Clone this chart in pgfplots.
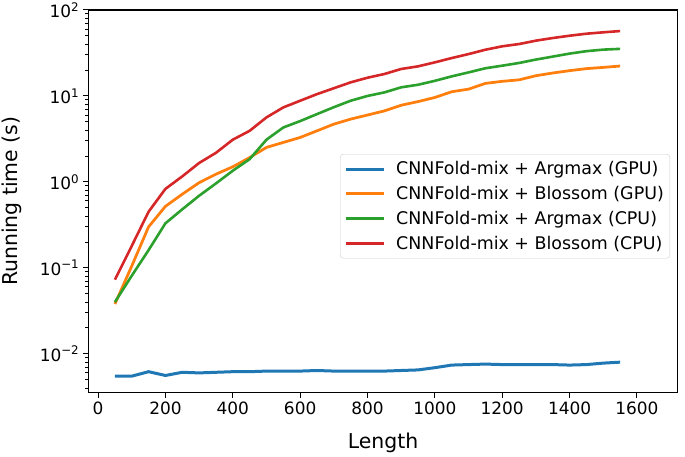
\documentclass[border=0pt]{standalone}
\usepackage{fontspec}
\setmainfont{DejaVu Sans}
\usepackage{pgfplots}
\pgfplotsset{compat=1.18}
\definecolor{cblue}{HTML}{1F77B4}
\definecolor{corange}{HTML}{FF7F0E}
\definecolor{cgreen}{HTML}{2CA02C}
\definecolor{cred}{HTML}{D62728}
\begin{document}
\begin{tikzpicture}
\useasboundingbox (-88.3bp,-64.5bp) rectangle (596.7bp,392.5bp);
\begin{axis}[
  at={(0,0)}, anchor=south west,
  scale only axis, width=589.4bp, height=382.5bp,
  ymode=log,
  xmin=-29, xmax=1721, ymin=0.00355, ymax=100,
  xtick={0,200,400,600,800,1000,1200,1400,1600},
  ytick={0.01,0.1,1,10,100},
  yticklabels={10\textsuperscript{−2},10\textsuperscript{−1},10\textsuperscript{0},10\textsuperscript{1},10\textsuperscript{2}},
  minor ytick={0.004,0.005,0.006,0.007,0.008,0.009,0.02,0.03,0.04,0.05,0.06,0.07,0.08,0.09,0.2,0.3,0.4,0.5,0.6,0.7,0.8,0.9,2,3,4,5,6,7,8,9,20,30,40,50,60,70,80,90},
  tick align=outside, tick pos=left,
  major tick length=5.5bp, minor tick length=3.2bp,
  every tick/.style={black, line width=1bp},
  axis line style={line width=1.1bp},
  ticklabel style={font=\fontsize{17}{20}\selectfont},
  /pgf/number format/assume math mode=true,
  /pgf/number format/1000 sep={},
  xlabel={Length}, ylabel={Running time (s)},
  label style={font=\fontsize{20.5}{24}\selectfont},
  xlabel style={at={(axis description cs:0.5,-0.132)}, anchor=center},
  ylabel style={at={(axis description cs:-0.1295,0.5)}, anchor=center},
  legend cell align=left,
  legend image code/.code={\draw[#1] (0bp,0bp) -- (38bp,0bp);},
  legend style={at={(0.987,0.487)}, anchor=east, draw=black!20, rounded corners=3bp,
    fill=white, fill opacity=0.8, text opacity=1,
    font=\fontsize{17.5}{21}\selectfont,
    inner xsep=4bp, inner ysep=5.5bp, row sep=6bp,
    nodes={inner sep=2bp},
    /tikz/every odd column/.append style={column sep=9bp}},
]
\addplot[cblue, line width=3bp] coordinates {
(50,0.0055) (100,0.0055) (150,0.0062) (200,0.0056) (250,0.0061) (300,0.0060)
(350,0.0061) (400,0.0062) (450,0.0062) (500,0.0063) (550,0.0063) (600,0.0063)
(650,0.0064) (700,0.0063) (750,0.0063) (800,0.0063) (850,0.0063) (900,0.0064)
(950,0.0065) (1000,0.0069) (1050,0.0074) (1100,0.0075) (1150,0.0076) (1200,0.0075)
(1250,0.0075) (1300,0.0075) (1350,0.0075) (1400,0.0074) (1450,0.0075) (1500,0.0078)
(1550,0.0080)};
\addlegendentry{CNNFold-mix + Argmax (GPU)}
\addplot[corange, line width=2.75bp] coordinates {
(50,0.038) (100,0.105) (150,0.30) (200,0.52) (250,0.72) (300,0.98)
(350,1.23) (400,1.5) (450,1.92) (500,2.52) (550,2.88) (600,3.29)
(650,3.93) (700,4.7) (750,5.38) (800,6.0) (850,6.7) (900,7.8)
(950,8.6) (1000,9.6) (1050,11.2) (1100,12.0) (1150,14.0) (1200,14.8)
(1250,15.4) (1300,17.2) (1350,18.5) (1400,19.7) (1450,20.8) (1500,21.5)
(1550,22.3)};
\addlegendentry{CNNFold-mix + Blossom (GPU)}
\addplot[cgreen, line width=2.6bp] coordinates {
(50,0.040) (100,0.081) (150,0.161) (200,0.33) (250,0.48) (300,0.69)
(350,0.96) (400,1.35) (450,1.84) (500,3.1) (550,4.3) (600,5.1)
(650,6.15) (700,7.4) (750,8.8) (800,10.0) (850,11.0) (900,12.6)
(950,13.5) (1000,15.0) (1050,16.9) (1100,18.8) (1150,21.0) (1200,22.5)
(1250,24.2) (1300,26.5) (1350,28.7) (1400,31.1) (1450,33.2) (1500,34.6)
(1550,35.3)};
\addlegendentry{CNNFold-mix + Argmax (CPU)}
\addplot[cred, line width=2.6bp] coordinates {
(50,0.073) (100,0.18) (150,0.45) (200,0.83) (250,1.16) (300,1.66)
(350,2.18) (400,3.1) (450,3.93) (500,5.63) (550,7.36) (600,8.8)
(650,10.5) (700,12.3) (750,14.4) (800,16.3) (850,18.0) (900,20.6)
(950,22.1) (1000,24.6) (1050,27.6) (1100,30.7) (1150,34.5) (1200,37.8)
(1250,40.2) (1300,44) (1350,47.2) (1400,50.2) (1450,53) (1500,55)
(1550,56.9)};
\addlegendentry{CNNFold-mix + Blossom (CPU)}
\end{axis}
\end{tikzpicture}
\end{document}
